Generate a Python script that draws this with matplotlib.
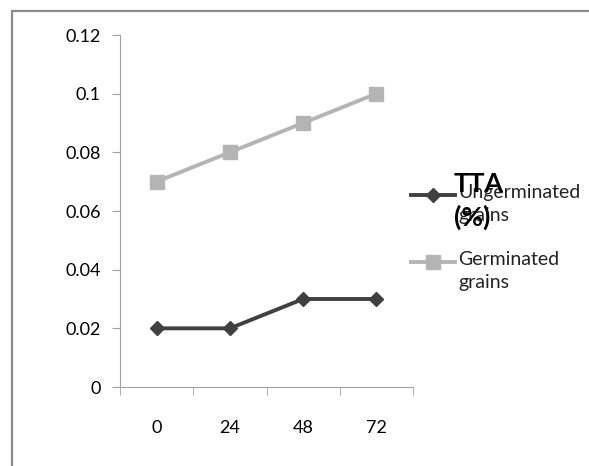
import matplotlib.pyplot as plt
from matplotlib.patches import Rectangle
from matplotlib.lines import Line2D

plt.rcParams['font.family'] = ['Lato', 'DejaVu Sans']

# data
hours = ['0', '24', '48', '72']
ungerminated = [0.02, 0.02, 0.03, 0.03]
germinated = [0.07, 0.08, 0.09, 0.10]
series_names = ['Ungerminated\ngrains', 'Germinated\ngrains']

dark = '#404040'
light = '#b4b4b4'

W, H = 589, 466
fig = plt.figure(figsize=(W / 100, H / 100), dpi=100)

# outer chart frame (right and bottom edges run off the picture)
fig.patches.append(Rectangle((12 / W, -0.05), 1.0, 1 - 11 / H + 0.05,
                             transform=fig.transFigure, fill=False,
                             edgecolor='#8a8a8a', lw=1.6, zorder=0))

ax = fig.add_axes([120 / W, 1 - 387 / H, 293 / W, 352 / H])
x = range(len(hours))
ax.plot(x, ungerminated, color=dark, lw=2.8, marker='D', ms=7.5)
ax.plot(x, germinated, color=light, lw=2.8, marker='s', ms=10)

ax.set_xlim(-0.5, 3.5)
ax.set_ylim(0, 0.12)
ax.set_yticks([0, 0.02, 0.04, 0.06, 0.08, 0.1, 0.12])
ax.set_yticklabels(['0', '0.02', '0.04', '0.06', '0.08', '0.1', '0.12'])
ax.set_xticks(x)
ax.set_xticklabels(hours)
ax.set_xticks([-0.5, 0.5, 1.5, 2.5, 3.5], minor=True)
ax.tick_params(axis='x', which='major', length=0, pad=24, labelsize=13)
ax.tick_params(axis='x', which='minor', length=6, direction='out', color='#a0a0a0')
ax.tick_params(axis='y', length=6, color='#a0a0a0', pad=8, labelsize=13)
for s in ['top', 'right']:
    ax.spines[s].set_visible(False)
for s in ['left', 'bottom']:
    ax.spines[s].set_color('#a0a0a0')

# legend drawn by hand: marker sits on the first line of each label
markers = [dict(marker='D', ms=7.5), dict(marker='s', ms=10)]
for i, (name, c, mk) in enumerate(zip(series_names, [dark, light], markers)):
    yy = 1 - (195 + i * 67) / H
    fig.add_artist(Line2D([411 / W, 455 / W], [yy, yy], lw=2.8, color=c,
                          transform=fig.transFigure))
    fig.add_artist(Line2D([433 / W], [yy], lw=0, color=c,
                          transform=fig.transFigure, **mk))
    fig.text(458 / W, yy + 11 / H, name, fontsize=14, ha='left', va='top',
             linespacing=1.45, color='#222222')

# the series title sits over the legend, as in the original
fig.text(454 / W, 1 - 201 / H, 'TTA\n(%)', fontsize=19, fontweight='bold',
         ha='left', va='center', linespacing=1.4, color='black')

fig.savefig('out.png', dpi=100)
